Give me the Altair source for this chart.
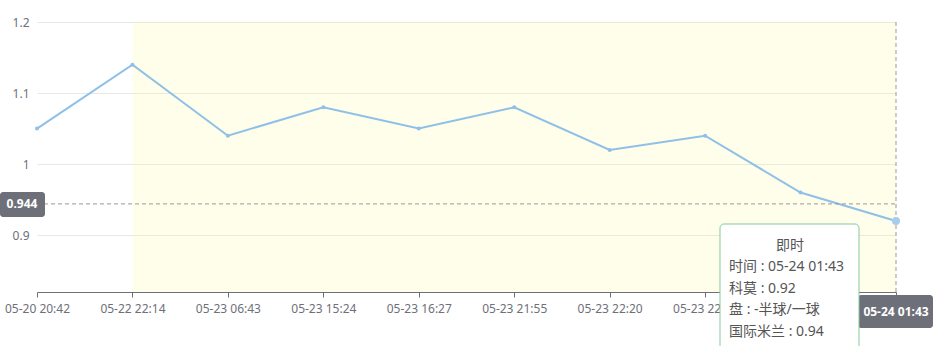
import altair as alt
import pandas as pd

# ---- data ----
times = ["05-20 20:42", "05-22 22:14", "05-23 06:43", "05-23 15:24", "05-23 16:27",
         "05-23 21:55", "05-23 22:20", "05-23 22:45", "05-24 00:30", "05-24 01:43"]
values = [1.05, 1.14, 1.04, 1.08, 1.05, 1.08, 1.02, 1.04, 0.96, 0.92]
y_ticks = [0.9, 1.0, 1.1, 1.2]
y_min, y_max = 0.82, 1.2
pointer_value = 0.944
pointer_time = times[-1]
tip_title = "即时"
tip_lines = ["时间 : 05-24 01:43", "科莫 : 0.92", "盘 : -半球/一球", "国际米兰 : 0.94"]
band_start = times[1]

FONT = "Noto Sans, Noto Sans CJK SC"
LINE_COLOR = "#8ec0e8"
AXIS_GRAY = "#6e7079"

df = pd.DataFrame({"t": times, "v": values})
last_df = df[df["t"] == pointer_time]

xscale = alt.Scale(type="point", padding=0, domain=times)
yscale = alt.Scale(domain=[y_min, y_max], nice=False, zero=False)


def X(field):
    return alt.X(field, scale=xscale, title=None)


def Y(field):
    return alt.Y(field, scale=yscale, title=None)


band_df = pd.DataFrame({"a": [band_start], "b": [times[-1]], "lo": [y_min], "hi": [y_max]})
band = alt.Chart(band_df).mark_rect(fill="#fafa8c", opacity=0.18).encode(
    x=X("a:N"), x2="b", y=Y("hi:Q"), y2="lo",
)

line = alt.Chart(df).mark_line(color=LINE_COLOR, strokeWidth=2).encode(
    x=alt.X("t:N", scale=xscale, title=None, axis=alt.Axis(labelAngle=0, grid=False, zindex=0)),
    y=alt.Y("v:Q", scale=yscale, title=None,
            axis=alt.Axis(values=y_ticks, format="~g", domain=False, ticks=False, grid=True,
                          zindex=0)),
)

pts = alt.Chart(df).mark_circle(size=16, color=LINE_COLOR, opacity=1).encode(
    x=X("t:N"), y=Y("v:Q"),
)

hi_pt = alt.Chart(last_df).mark_circle(size=64, color="#a6cdee", opacity=1).encode(
    x=X("t:N"), y=Y("v:Q"),
)

ptr_df = pd.DataFrame({"t0": [times[0]], "t1": [pointer_time], "pv": [pointer_value],
                       "lo": [y_min], "hi": [y_max], "lab": [f"{pointer_value:g}"],
                       "tl": [pointer_time]})

hrule = alt.Chart(ptr_df).mark_rule(color="#9a9a9a", strokeDash=[4, 3], strokeWidth=1).encode(
    x=X("t0:N"), x2="t1", y=Y("pv:Q"),
)
vrule = alt.Chart(ptr_df).mark_rule(color="#9a9a9a", strokeDash=[4, 3], strokeWidth=1).encode(
    x=X("t1:N"), y=Y("hi:Q"), y2="lo",
)

ybox = alt.Chart(ptr_df).mark_rect(fill=AXIS_GRAY, cornerRadius=3, yOffset=-12, y2Offset=13).encode(
    x=alt.value(-37), x2=alt.value(8), y=Y("pv:Q"), y2="pv",
)
ytext = alt.Chart(ptr_df).mark_text(color="white", font=FONT, fontSize=12, fontWeight="bold",
                                    align="center", baseline="middle").encode(
    x=alt.value(-15), y=Y("pv:Q"), text="lab:N",
)

xbox = alt.Chart(ptr_df).mark_rect(fill=AXIS_GRAY, cornerRadius=3, xOffset=-38, x2Offset=37).encode(
    x=X("t1:N"), x2="t1", y=alt.value(273), y2=alt.value(306),
)
xtext = alt.Chart(ptr_df).mark_text(color="white", font=FONT, fontSize=12, fontWeight="bold",
                                    align="center", baseline="middle").encode(
    x=X("t1:N"), y=alt.value(289.5), text="tl:N",
)

tip_df = pd.DataFrame({"t1": [pointer_time], "title": [tip_title], "body": ["\n".join(tip_lines)]})
tipbox = alt.Chart(tip_df).mark_rect(fill="white", stroke="#86c89c", strokeWidth=1,
                                     cornerRadius=4, xOffset=-176, x2Offset=-37).encode(
    x=X("t1:N"), x2="t1", y=alt.value(202), y2=alt.value(335),
)
tiptitle = alt.Chart(tip_df).mark_text(color="#555555", font=FONT, fontSize=14, align="center",
                                       baseline="middle", dx=-106).encode(
    x=X("t1:N"), y=alt.value(224), text="title:N",
)
tipbody = alt.Chart(tip_df).mark_text(color="#555555", font=FONT, fontSize=14, align="left",
                                      baseline="middle", dx=-167, lineBreak="\n",
                                      lineHeight=21.5).encode(
    x=X("t1:N"), y=alt.value(245), text="body:N",
)

chart = alt.layer(
    band, line, hrule, vrule, pts, hi_pt, ybox, ytext, xbox, xtext, tipbox, tiptitle, tipbody
).properties(
    width=859, height=270,
    autosize=alt.AutoSizeParams(type="none"),
    padding={"left": 37, "top": 22, "right": 39, "bottom": 54},
    background="white",
).configure_view(
    stroke=None
).configure_axisX(
    labelAngle=0, domainColor=AXIS_GRAY, tickColor=AXIS_GRAY, tickSize=5,
    labelColor=AXIS_GRAY, labelFont=FONT, labelFontSize=12, labelPadding=6, grid=False, zindex=0,
).configure_axisY(
    domain=False, ticks=False, labelColor=AXIS_GRAY, labelFont=FONT, labelFontSize=12,
    labelPadding=8, gridColor="#e8e8e8", grid=True, zindex=0,
)

chart.save("out.html", embed_options={"renderer": "svg", "actions": False})
